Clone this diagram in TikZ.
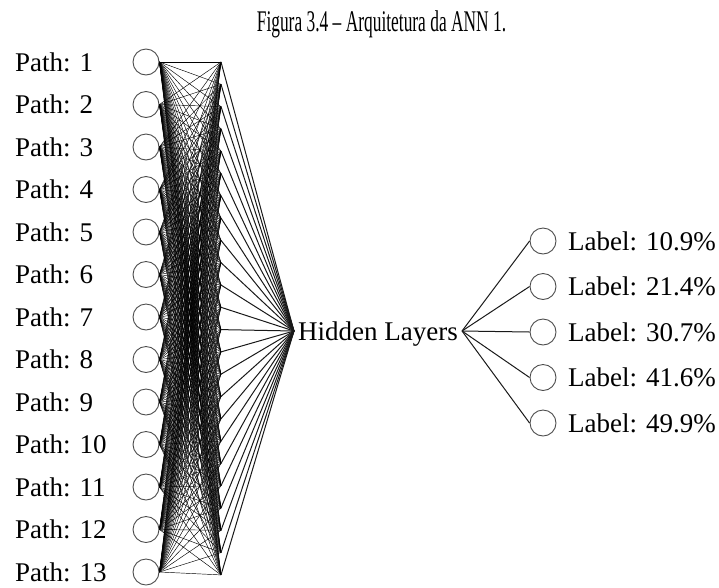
\documentclass[tikz,border=0pt]{standalone}
\usepackage{fontspec}
\setmainfont{Liberation Serif}
\begin{document}
\begin{tikzpicture}[x=1pt,y=-1pt,
  neuron/.style={circle,draw=black!70,line width=0.9pt,minimum size=26pt,inner sep=0pt},
  lbl/.style={anchor=west,inner sep=0pt,text height=18pt,text depth=0pt,font=\fontsize{27}{32}\selectfont},
  syn/.style={black,line width=0.45pt},
  edge/.style={black!90,line width=1pt}]
  % Parameters
  \def\xin{146} % x of input neurons
  \def\xhid{221} % x of hidden points
  \def\xout{543} % x of output neurons
  \def\dyin{42.5} % spacing of inputs
  \def\dyhid{22.3} % spacing of hidden points
  \def\dyout{45.5} % spacing of outputs

  \useasboundingbox (0,0) rectangle (719,587);

  % Title
  \node[anchor=base,inner sep=0pt,font=\fontsize{30}{34}\selectfont] (title) at (381.5,31)
    {\scalebox{0.58}[1]{Figura 3.4 -- Arquitetura da ANN 1.}};

  % Input layer
  \foreach \i in {1,...,13} {
    \node[neuron] (in\i) at (\xin,{62+(\i-1)*\dyin}) {};
    \node[lbl] (path\i) at (15,{62+(\i-1)*\dyin}) {Path: \i};
  }

  % Hidden points
  \foreach \k in {1,...,24}
    \coordinate (h\k) at (\xhid,{62+(\k-1)*\dyhid});

  % Input to hidden
  \foreach \i in {1,...,13}
    \foreach \k in {1,...,24}
      \draw[syn] (in\i.east) -- (h\k);

  % Hidden Layers
  \node[lbl,anchor=center,inner xsep=4pt] (hidden) at (378,331) {Hidden Layers};
  \foreach \k in {1,...,24}
    \draw[edge] (h\k) -- (hidden.west);

  % Output layer
  \foreach \p [count=\j] in {10.9,21.4,30.7,41.6,49.9} {
    \node[neuron] (out\j) at (\xout,{241+(\j-1)*\dyout}) {};
    \node[lbl] (label\j) at (568,{241+(\j-1)*\dyout}) {Label: \p\%};
    \draw[edge] (hidden.east) -- (out\j.west);
  }
\end{tikzpicture}
\end{document}
